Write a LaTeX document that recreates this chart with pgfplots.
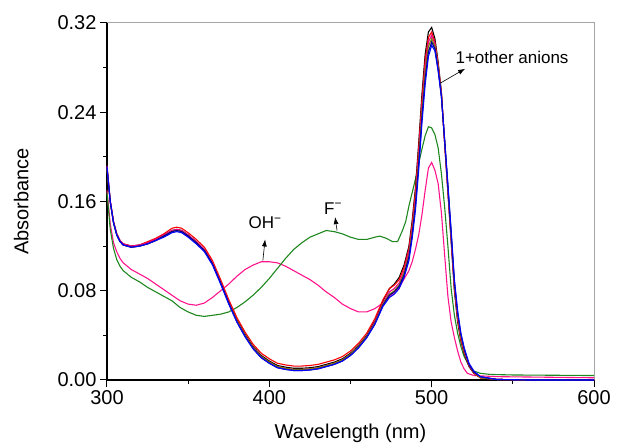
\documentclass[border=0pt]{standalone}
\usepackage{fontspec}
\setmainfont{Liberation Sans}
\usepackage{pgfplots}
\usepackage{pgfplotstable}
\pgfplotsset{compat=1.18}
\usetikzlibrary{arrows.meta}

\definecolor{ohpink}{RGB}{255,20,140}
\definecolor{fgreen}{RGB}{30,135,30}
\definecolor{cnavy}{RGB}{0,0,128}
\definecolor{colive}{RGB}{128,128,0}

% 1 + other anions (one column per anion)
\pgfplotstableread{
x    k      r      m      o      n      b
300  0.191  0.190  0.192  0.189  0.190  0.191
302  0.160  0.160  0.161  0.159  0.160  0.160
304  0.142  0.142  0.142  0.141  0.141  0.141
306  0.131  0.131  0.131  0.130  0.130  0.130
308  0.125  0.125  0.125  0.124  0.124  0.124
310  0.122  0.122  0.122  0.121  0.121  0.121
315  0.120  0.120  0.120  0.119  0.119  0.119
320  0.121  0.121  0.121  0.120  0.120  0.120
325  0.123  0.124  0.123  0.122  0.122  0.122
330  0.126  0.127  0.126  0.125  0.125  0.125
335  0.130  0.131  0.130  0.129  0.129  0.128
340  0.134  0.136  0.134  0.133  0.133  0.132
343  0.135  0.137  0.135  0.134  0.134  0.133
346  0.134  0.136  0.134  0.133  0.133  0.132
350  0.130  0.132  0.130  0.129  0.129  0.128
355  0.124  0.126  0.124  0.123  0.123  0.122
360  0.117  0.119  0.117  0.116  0.116  0.115
365  0.105  0.107  0.105  0.104  0.104  0.103
370  0.088  0.090  0.088  0.087  0.087  0.086
375  0.070  0.072  0.070  0.069  0.069  0.068
380  0.054  0.056  0.053  0.053  0.052  0.052
385  0.041  0.043  0.040  0.040  0.039  0.039
390  0.030  0.032  0.029  0.029  0.028  0.028
395  0.022  0.024  0.021  0.021  0.020  0.020
400  0.017  0.019  0.016  0.016  0.015  0.015
405  0.013  0.015  0.012  0.012  0.011  0.011
410  0.0115 0.0135 0.0105 0.0105 0.0095 0.0095
415  0.0105 0.0125 0.0095 0.0095 0.0085 0.0085
420  0.0105 0.0125 0.0095 0.0095 0.0085 0.0085
425  0.011  0.013  0.010  0.010  0.009  0.009
430  0.012  0.014  0.011  0.011  0.010  0.010
435  0.014  0.016  0.013  0.013  0.012  0.012
440  0.016  0.018  0.015  0.015  0.014  0.014
445  0.019  0.021  0.018  0.018  0.017  0.017
450  0.024  0.026  0.023  0.023  0.022  0.022
455  0.031  0.033  0.030  0.030  0.029  0.029
460  0.040  0.042  0.039  0.039  0.038  0.038
465  0.053  0.055  0.052  0.051  0.050  0.050
470  0.071  0.072  0.069  0.068  0.067  0.066
474  0.082  0.082  0.079  0.077  0.076  0.074
477  0.086  0.085  0.082  0.080  0.079  0.077
480  0.092  0.090  0.087  0.085  0.084  0.082
483  0.103  0.101  0.098  0.096  0.094  0.092
486  0.120  0.118  0.115  0.112  0.110  0.107
488  0.143  0.140  0.136  0.133  0.130  0.127
490  0.172  0.169  0.163  0.159  0.156  0.152
492  0.212  0.208  0.202  0.197  0.193  0.188
494  0.256  0.251  0.245  0.240  0.235  0.230
496  0.292  0.287  0.281  0.276  0.270  0.265
498  0.312  0.307  0.303  0.299  0.294  0.290
500  0.316  0.312  0.309  0.306  0.303  0.300
502  0.306  0.303  0.301  0.299  0.297  0.295
504  0.285  0.283  0.281  0.280  0.278  0.277
506  0.258  0.257  0.256  0.255  0.254  0.254
508  0.212  0.212  0.213  0.214  0.215  0.215
510  0.168  0.169  0.171  0.172  0.174  0.175
512  0.124  0.126  0.128  0.130  0.132  0.134
514  0.080  0.082  0.084  0.086  0.088  0.090
516  0.052  0.054  0.056  0.058  0.060  0.062
518  0.035  0.036  0.038  0.039  0.041  0.042
520  0.024  0.025  0.026  0.027  0.028  0.029
523  0.012  0.013  0.013  0.014  0.014  0.015
526  0.006  0.006  0.007  0.007  0.007  0.008
530  0.002  0.002  0.002  0.002  0.003  0.003
540  0.0005 0.0005 0.0005 0.0005 0.0005 0.0005
560  0.0    0.0    0.0    0.0    0.0    0.0
600  0.0    0.0    0.0    0.0    0.0    0.0
}\othertab

% 1 + OH-
\pgfplotstableread{
x    y
300  0.170
302  0.140
304  0.123
306  0.115
308  0.109
310  0.105
315  0.099
320  0.095
325  0.091
330  0.086
335  0.081
340  0.076
345  0.071
350  0.068
355  0.067
360  0.069
365  0.074
370  0.080
375  0.086
380  0.093
385  0.099
390  0.103
395  0.106
400  0.106
405  0.105
410  0.102
415  0.098
420  0.094
425  0.090
430  0.085
435  0.079
440  0.074
445  0.068
450  0.064
455  0.061
460  0.061
465  0.064
470  0.069
475  0.076
480  0.083
484  0.093
486  0.098
488  0.106
490  0.117
492  0.130
494  0.148
496  0.170
498  0.190
500  0.195
502  0.188
504  0.176
506  0.150
508  0.112
510  0.075
512  0.052
514  0.038
516  0.026
518  0.016
520  0.010
522  0.006
526  0.004
540  0.003
600  0.002
}\ohtab

% 1 + F-
\pgfplotstableread{
x    y
300  0.168
302  0.135
304  0.118
306  0.108
308  0.102
310  0.098
315  0.092
320  0.088
325  0.083
330  0.079
335  0.075
340  0.071
345  0.065
350  0.061
355  0.058
360  0.057
365  0.058
370  0.059
375  0.061
380  0.065
385  0.070
390  0.076
395  0.083
400  0.091
405  0.100
410  0.109
415  0.117
420  0.123
425  0.128
430  0.131
435  0.134
440  0.133
445  0.131
450  0.128
455  0.126
460  0.126
465  0.128
468  0.129
472  0.127
476  0.124
479  0.124
482  0.134
484  0.142
486  0.156
488  0.168
490  0.180
492  0.194
494  0.207
496  0.219
498  0.227
500  0.226
502  0.220
504  0.208
506  0.185
508  0.155
510  0.120
512  0.082
514  0.058
516  0.042
518  0.030
520  0.021
523  0.013
526  0.008
530  0.006
536  0.005
550  0.0045
600  0.004
}\ftab

\begin{document}
\begin{tikzpicture}
\begin{axis}[
    name=ax,
    scale only axis,
    width=487pt, height=357pt,
    xmin=300, xmax=600,
    ymin=0, ymax=0.32,
    xtick={300,400,500,600},
    ytick={0,0.08,0.16,0.24,0.32},
    minor x tick num=1,
    minor y tick num=1,
    axis x line*=bottom,
    axis y line*=left,
    axis line style={line width=1.2pt, -},
    tick align=outside,
    major tick length=7pt,
    minor tick length=4pt,
    every tick/.style={black, line width=1pt},
    tick label style={font=\fontsize{20}{24}\selectfont},
    label style={font=\fontsize{20}{24}\selectfont},
    /pgf/number format/assume math mode=true,
    yticklabel style={/pgf/number format/fixed, /pgf/number format/fixed zerofill, /pgf/number format/precision=2},
    xlabel={Wavelength (nm)},
    ylabel={Absorbance},
    xlabel shift=12pt,
    ylabel shift=22pt,
    clip=false,
    every axis plot/.append style={line width=1.1pt},
]
\draw[gray!70, line width=1pt] (rel axis cs:0,1) -- (rel axis cs:1,1) -- (rel axis cs:1,0);

\addplot[ohpink] table[x=x, y=y] {\ohtab};
\addplot[fgreen] table[x=x, y=y] {\ftab};
\addplot[black]  table[x=x, y=k] {\othertab};
\addplot[red]    table[x=x, y=r] {\othertab};
\addplot[magenta] table[x=x, y=m] {\othertab};
\addplot[colive] table[x=x, y=o] {\othertab};
\addplot[cnavy]  table[x=x, y=n] {\othertab};
\addplot[blue]   table[x=x, y=b] {\othertab};

\draw[-{Latex[length=7pt,width=5pt]}, line width=0.6pt] (axis cs:396,0.107) -- (axis cs:397.4,0.126);
\node[font=\fontsize{17}{20}\selectfont] at (axis cs:397.4,0.141) {OH\textsuperscript{−}};
\draw[-{Latex[length=7pt,width=5pt]}, line width=0.6pt] (axis cs:441.7,0.134) -- (axis cs:440.5,0.146);
\node[font=\fontsize{17}{20}\selectfont] at (axis cs:439.3,0.154) {F\textsuperscript{−}};
\draw[-{Latex[length=7pt,width=5pt]}, line width=0.6pt] (axis cs:505.2,0.266) -- (axis cs:520.6,0.279);
\node[font=\fontsize{17}{20}\selectfont] at (axis cs:549.5,0.2895) {1+other anions};

\coordinate (bl) at (rel axis cs:0,0);
\coordinate (tr) at (rel axis cs:1,1);
\end{axis}
\pgfresetboundingbox
\path ([shift={(-107pt,-63pt)}]bl) rectangle ([shift={(26pt,23pt)}]tr);
\end{tikzpicture}
\end{document}
